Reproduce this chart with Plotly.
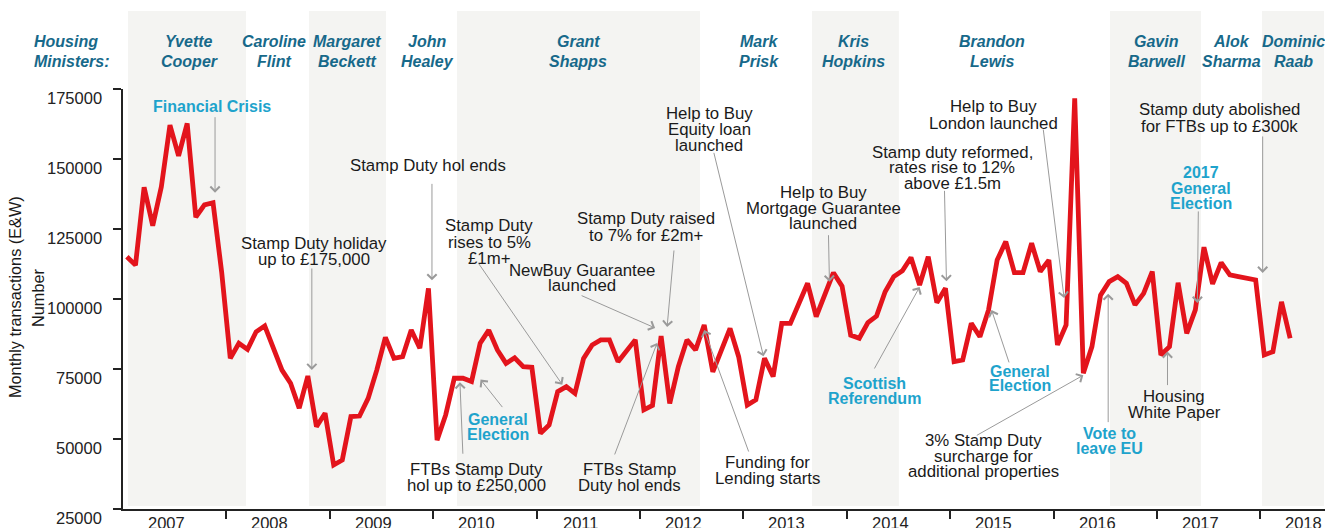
import pandas as pd
import plotly.graph_objects as go

# Monthly residential transactions, England & Wales, Jan 2007 - Apr 2018
months = pd.period_range("2007-01", "2018-04", freq="M")
transactions = [
    115100, 112100, 139900, 126200, 140100, 162100, 151100, 162700, 129200, 133600, 134400, 109600,
    78800, 84200, 82000, 88300, 90400, 83000, 74600, 69900, 61000, 72500, 54400, 59200,
    40700, 42500, 58000, 58200, 64500, 74600, 86300, 78800, 79400, 88900, 82400, 103800,
    49600, 58600, 71700, 71700, 70500, 84200, 88900, 81800, 77000, 79000, 75800, 75600,
    52000, 55000, 66900, 68700, 66300, 78800, 83600, 85400, 85400, 77600, 81200, 85400,
    60400, 62000, 86800, 62700, 75800, 85400, 81800, 90700, 74000, 81800, 89500, 79400,
    62100, 64000, 78800, 72300, 91300, 91300, 98500, 105600, 93700, 101500, 109400, 104600,
    87100, 86000, 91600, 93900, 102600, 108000, 110100, 114800, 105000, 115100, 98700, 103800,
    77600, 78200, 91300, 86500, 96100, 113900, 120500, 109400, 109400, 119900, 109800, 113900,
    83600, 90700, 171700, 73500, 83000, 101400, 106200, 108000, 105600, 97900, 102000, 109800,
    80000, 83000, 105800, 87700, 96100, 118500, 105400, 113000, 108600, 108000, 107400, 106800,
    80000, 81200, 99000, 86000,
]
month_keys = [str(p) for p in months]
x_vals = [p.year + (p.month - 0.55) / 12 for p in months]

years = list(range(2007, 2019))
y_ticks = [25000, 50000, 75000, 100000, 125000, 150000, 175000]

# housing ministers and the (decimal-year) start of each term
minister_names = [
    ("Yvette", "Cooper"), ("Caroline", "Flint"), ("Margaret", "Beckett"), ("John", "Healey"),
    ("Grant", "Shapps"), ("Mark", "Prisk"), ("Kris", "Hopkins"), ("Brandon", "Lewis"),
    ("Gavin", "Barwell"), ("Alok", "Sharma"), ("Dominic", "Raab"),
]
term_starts = [2007.048, 2008.190, 2008.799, 2009.544, 2010.230, 2012.580,
               2013.663, 2014.504, 2016.545, 2017.426, 2018.015]
term_end = 2018.615

FONT = "Liberation Sans, Arial, sans-serif"
BLACK = "#1a1a1a"
TEAL = "#17698a"
CYAN = "#1ea3cc"
GREY = "#9a9a9a"
RED = "#e3141c"
BAND = "#f4f4f2"

# the page body adds an 8px margin, so the figure is drawn 8px smaller
# and all positions below are given in window pixels
OFF = 8
W, H = 1333, 528
L, R, T, B = 123, 1325, 89, 509


def px_x(px):
    return (px - L) / (R - L)


def px_y(py):
    return (B - py) / (B - T)


fig = go.Figure()

ends = term_starts[1:] + [term_end]
for i in range(0, len(term_starts), 2):
    fig.add_shape(type="rect", xref="x", yref="paper", x0=term_starts[i], x1=ends[i],
                  y0=px_y(506), y1=px_y(11), fillcolor=BAND, line_width=0, layer="below")

fig.add_trace(go.Scatter(x=x_vals, y=transactions, mode="lines",
                         line=dict(color=RED, width=4.8), hoverinfo="skip"))


def add_text(lines, cx, ys, color=BLACK, bold=False, italic=False, anchor="center",
             size=16.8, angle=0):
    for line, y in zip(lines, ys):
        t = line
        if italic:
            t = f"<i>{t}</i>"
        if bold:
            t = f"<b>{t}</b>"
        fig.add_annotation(text=t, x=px_x(cx), y=px_y(y), xref="paper", yref="paper",
                           showarrow=False, xanchor=anchor, yanchor="middle",
                           textangle=angle,
                           font=dict(family=FONT, size=size, color=color))


def add_arrow(month, sx, sy, ax, ay):
    m = month_keys.index(month)
    fig.add_annotation(x=x_vals[m], y=transactions[m], xref="x", yref="y", text="",
                       showarrow=True, arrowhead=4, arrowsize=1.8, arrowwidth=1,
                       arrowcolor=GREY, xshift=sx, yshift=-sy, ax=ax, ay=ay)


# header
add_text(["Housing", "Ministers:"], 31.7, [42, 61], TEAL, bold=True, italic=True,
         anchor="left", size=16)
name_x = [189, 274, 347, 427, 578, 759, 853, 992, 1156, 1231, 1293]
for (first, last), cx in zip(minister_names, name_x):
    add_text([first, last], cx, [42, 61], TEAL, bold=True, italic=True, size=16)

# event labels: text lines, centre x, line y's, colour, bold, arrow
events = [
    (["Financial Crisis"], 212, [107], CYAN, True, ("2007-11", 2, -10, 0, -77)),
    (["Stamp Duty holiday", "up to £175,000"], 314, [243, 259], BLACK, False, ("2008-10", 4, -6, 0, -103)),
    (["Stamp Duty hol ends"], 428, [165], BLACK, False, ("2009-12", 3.5, -8, 0, -98)),
    (["Stamp Duty", "rises to 5%", "£1m+"], 489, [226, 242, 258], BLACK, False, ("2011-04", -4, -2, -85, -123)),
    (["NewBuy Guarantee", "launched"], 582, [270, 285], BLACK, False, ("2012-03", -6, -8, -75, -33)),
    (["Stamp Duty raised", "to 7% for £2m+"], 646, [218, 235], BLACK, False, ("2012-03", 6, -9, 7, -78)),
    (["Help to Buy", "Equity loan", "launched"], 709, [113, 129, 145], BLACK, False, ("2013-03", -1, -2, -50, -205)),
    (["Help to Buy", "Mortgage Guarantee", "launched"], 823, [192, 208, 223], BLACK, False, ("2013-11", -4, 9, -1, -48)),
    (["Stamp duty reformed,", "rates rise to 12%", "above £1.5m"], 952, [152, 167, 183], BLACK, False, ("2014-12", 1, -7, -2, -92)),
    (["Help to Buy", "London launched"], 993, [107, 123], BLACK, False, ("2016-02", -2, -27, -21, -170)),
    (["Stamp duty abolished", "for FTBs up to £300k"], 1219, [109, 126], BLACK, False, ("2017-12", 7, -7, 0, -138)),
    (["2017", "General", "Election"], 1201, [172, 188, 203], CYAN, True, ("2017-05", 2, -7, 1, -93)),
    (["Housing", "White Paper"], 1174, [396, 412], BLACK, False, ("2017-02", -2, 5, 0, 35)),
    (["Vote to", "leave EU"], 1109, [433, 448], CYAN, True, ("2016-07", -1, 12, 0, 130)),
    (["3% Stamp Duty", "surcharge for", "additional properties"], 983, [440, 456, 471], BLACK, False, ("2016-04", 0, 2, -108, 61)),
    (["General", "Election"], 1020, [371, 386], CYAN, True, ("2015-05", 3, 0, 18, 54)),
    (["Scottish", "Referendum"], 874, [383, 398], CYAN, True, ("2014-09", 0, 2, -46, 83)),
    (["General", "Election"], 498, [419, 434], CYAN, True, ("2010-05", 9, -2, 23, 29)),
    (["FTBs Stamp Duty", "hol up to £250,000"], 476, [469, 485], BLACK, False, ("2010-04", -3, 4, 3, 73)),
    (["FTBs Stamp", "Duty hol ends"], 629, [469, 485], BLACK, False, ("2012-03", -4, 7, -43, 113)),
    (["Funding for", "Lending starts"], 767, [462, 478], BLACK, False, ("2012-08", 0, 5, 45, 123)),
]
for lines, cx, ys, color, bold, arrow in events:
    add_text(lines, cx, ys, color, bold=bold, size=16 if bold else 16.8)
    add_arrow(*arrow)

# y tick labels sit a little below their ticks
for v in y_ticks:
    py = B - (v - y_ticks[0]) / (y_ticks[-1] - y_ticks[0]) * (B - T)
    add_text([str(v)], 103.5, [py + 9], "#222222", anchor="right", size=16.5)

# year labels between ticks
for yr in years:
    fig.add_annotation(text=str(yr), x=yr + 0.42, y=px_y(523), xref="x", yref="paper",
                       showarrow=False, xanchor="center", yanchor="middle",
                       font=dict(family=FONT, size=16.5, color="#222222"))

# axis title, two stacked lines
add_text(["Monthly transactions (E&W)"], 15, [297], BLACK, size=16.3, angle=-90)
add_text(["Number"], 37.5, [297.5], BLACK, size=16.3, angle=-90)

fig.update_layout(
    width=W - OFF, height=H - OFF,
    margin=dict(l=L - OFF, r=W - R, t=T - OFF, b=H - B),
    paper_bgcolor="white", plot_bgcolor="white",
    showlegend=False,
    font=dict(family=FONT, size=16, color=BLACK),
    xaxis=dict(range=[2007, 2007 + (R - L) / 103.4], tickvals=years[1:], ticks="outside",
               ticklen=8, tickwidth=1.5, tickcolor="#222222", showticklabels=False,
               showline=True, linecolor="#222222", linewidth=1.5, showgrid=False,
               zeroline=False, fixedrange=True),
    yaxis=dict(range=[25000, 175000], tickvals=y_ticks, ticks="outside", ticklen=8,
               tickwidth=1.5, tickcolor="#222222", showticklabels=False, showline=True,
               linecolor="#222222", linewidth=1.5, showgrid=False, zeroline=False,
               fixedrange=True),
)

fig.write_html("out.html")
